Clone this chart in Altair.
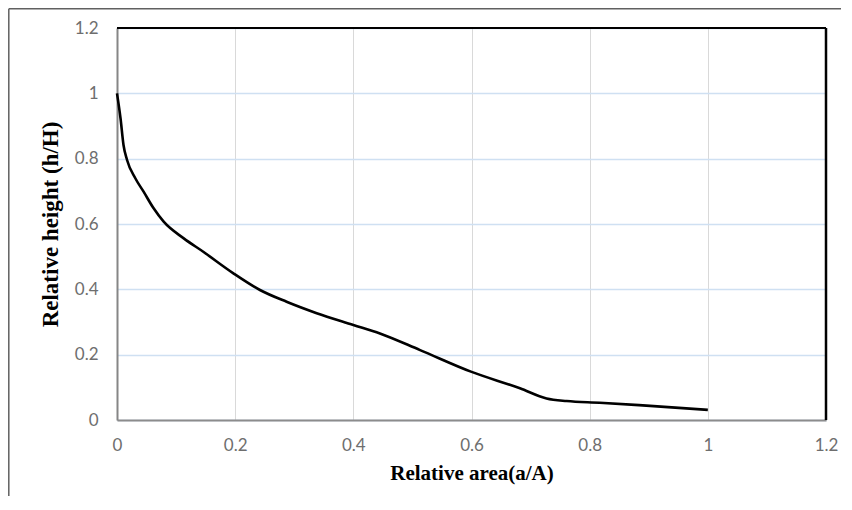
import altair as alt
import pandas as pd

# Relative area (a/A) and relative height (h/H)
rel_area = [0.0, 0.006, 0.011, 0.017, 0.031, 0.045, 0.062, 0.079, 0.113, 0.146,
            0.197, 0.242, 0.287, 0.338, 0.400, 0.445, 0.513, 0.599, 0.682, 0.727,
            0.761, 0.817, 0.896, 1.0]
rel_height = [1.0, 0.923, 0.842, 0.796, 0.740, 0.699, 0.648, 0.607, 0.556, 0.515,
              0.449, 0.398, 0.362, 0.327, 0.291, 0.265, 0.214, 0.148, 0.097, 0.066,
              0.058, 0.053, 0.044, 0.031]
tick_values = [0, 0.2, 0.4, 0.6, 0.8, 1.0, 1.2]

df = pd.DataFrame({"a": rel_area, "h": rel_height})
one = pd.DataFrame({"k": [0]})

W, H = 709, 392
PAD = {"left": 109, "top": 20, "right": 15, "bottom": 76}

label_font = "Lato"
title_font = "Liberation Serif"

x_axis = alt.Axis(values=tick_values, labelExpr="format(datum.value, '~g')",
                  title="Relative area(a/A)", titleFont=title_font, titleFontSize=21,
                  titleFontWeight="bold", titleColor="#000000", titlePadding=9,
                  labelFont=label_font, labelFontSize=17, labelColor="#6e6e6e",
                  labelPadding=17, labelFlush=False, ticks=False,
                  domainColor="#8c8c8c", domainWidth=2,
                  grid=True, gridColor="#d9d9d9", gridWidth=1)
y_axis = alt.Axis(values=tick_values, labelExpr="format(datum.value, '~g')",
                  title="Relative height (h/H)", titleFont=title_font, titleFontSize=23,
                  titleFontWeight="bold", titleColor="#000000", titlePadding=12,
                  labelFont=label_font, labelFontSize=17, labelColor="#6e6e6e",
                  labelPadding=19, labelFlush=False, ticks=False,
                  domainColor="#868686", domainWidth=2,
                  grid=True, gridColor="#cfe0f2", gridWidth=1.5)

line = alt.Chart(df).mark_line(color="black", strokeWidth=2.6, interpolate="monotone").encode(
    x=alt.X("a:Q", scale=alt.Scale(domain=[0, 1.2], nice=False), axis=x_axis),
    y=alt.Y("h:Q", scale=alt.Scale(domain=[0, 1.2], nice=False), axis=y_axis),
)

base = alt.Chart(one)
top_border = base.mark_rule(color="black", strokeWidth=2).encode(
    x=alt.value(0), x2=alt.value(W), y=alt.value(0))
right_border = base.mark_rule(color="black", strokeWidth=2.5).encode(
    x=alt.value(W), y=alt.value(0), y2=alt.value(H))
frame_top = base.mark_rule(color="#606060", strokeWidth=1.5).encode(
    x=alt.value(-108.2), x2=alt.value(W + PAD["right"]), y=alt.value(-19.2))
frame_left = base.mark_rule(color="#606060", strokeWidth=1.5).encode(
    x=alt.value(-108.2), y=alt.value(-19.2), y2=alt.value(H + PAD["bottom"]))

chart = alt.layer(line, top_border, right_border, frame_top, frame_left).properties(
    width=W, height=H,
    autosize=alt.AutoSizeParams(type="none"),
    padding=PAD,
).configure_view(stroke=None).configure(background="white")

chart.save("out.html", embed_options={"renderer": "svg", "actions": False})
